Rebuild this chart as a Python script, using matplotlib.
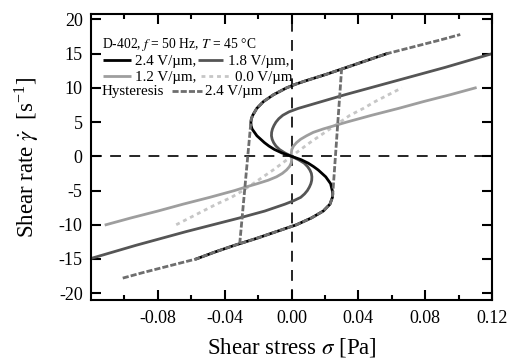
import matplotlib
matplotlib.use("Agg")
import matplotlib.pyplot as plt

plt.rcParams['font.family'] = ['Liberation Serif', 'DejaVu Serif']
plt.rcParams['mathtext.fontset'] = 'stix'
plt.rcParams['axes.unicode_minus'] = False

# 0.0 V/um (no field)
gamma_00 = [-10, -9, -8, -7, -6, -5, -4, -3, -2, -1, 0, 1, 2, 3, 4, 5, 6, 7, 8, 9, 10]
sigma_00 = [-0.069, -0.061, -0.053, -0.045, -0.036, -0.029, -0.023, -0.017, -0.011, -0.0055, 0,
            0.0055, 0.011, 0.017, 0.023, 0.029, 0.035, 0.043, 0.050, 0.058, 0.066]

# 1.2 V/um
gamma_12 = [-10, -9, -8, -7, -6, -5, -4.5, -4, -3.5, -3, -2.5, -2, -1.5, -1, -0.5, 0,
            0.5, 1, 1.5, 2, 2.5, 3, 3.5, 4, 4.5, 5, 6, 7, 8, 9, 10]
sigma_12 = [-0.111, -0.096, -0.080, -0.065, -0.049, -0.034, -0.0275, -0.0205, -0.014, -0.009, -0.0055,
            -0.003, -0.0012, -0.0002, 0.0001, 0,
            -0.0001, 0.0002, 0.0012, 0.003, 0.0055, 0.009, 0.013, 0.019, 0.026, 0.033, 0.048, 0.064,
            0.079, 0.095, 0.110]

# 1.8 V/um
gamma_18 = [-15, -14, -13, -12, -11, -10, -9, -8, -7.5, -7, -6.5, -6, -5.5, -5, -4.5, -4, -3.5, -3,
            -2.5, -2, -1.5, -1, -0.5, 0, 0.5, 1, 1.5, 2, 2.5, 3, 3.5, 4, 4.5, 5, 5.5, 6, 6.5, 7,
            7.5, 8, 9, 10, 11, 12, 13, 14, 15]
sigma_18 = [-0.121, -0.107, -0.093, -0.078, -0.063, -0.047, -0.031, -0.016, -0.010, -0.004, 0.0012,
            0.0055, 0.0078, 0.0095, 0.0107, 0.0116, 0.0121, 0.0122, 0.0119, 0.0110, 0.0096, 0.0076,
            0.0042, 0, -0.004, -0.0072, -0.0093, -0.0107, -0.0116, -0.012, -0.0119, -0.0114, -0.0105,
            -0.0093, -0.0076, -0.0052, -0.0015, 0.004, 0.011, 0.018, 0.032, 0.047, 0.062, 0.077,
            0.092, 0.106, 0.120]

# 2.4 V/um
gamma_24 = [-15, -14, -13, -12, -11, -10.5, -10, -9, -8, -7, -6, -5.5, -5, -4, -3, -2, -1.5, -1,
            -0.5, 0, 0.5, 1, 1.5, 2, 3, 4, 4.5, 5, 5.5, 6, 7, 8, 9, 10, 10.5, 11, 12, 13, 14, 15]
sigma_24 = [-0.057, -0.046, -0.034, -0.021, -0.009, -0.003, 0.003, 0.012, 0.019, 0.023, 0.0245,
            0.0247, 0.0244, 0.0234, 0.0205, 0.016, 0.0132, 0.0100, 0.0058, 0, -0.0058, -0.0102,
            -0.0135, -0.0162, -0.0207, -0.0236, -0.0242, -0.0243, -0.0240, -0.0232, -0.0208,
            -0.0168, -0.0108, -0.003, 0.002, 0.008, 0.021, 0.033, 0.045, 0.057]

# hysteresis at 2.4 V/um: rising stress (lower branch + jump up)
gamma_hy_up = [-17.8, -17, -16, -15, -14, -13, -12, -11, -10, -9, -8, -7, -6, -5.5, 12.8]
sigma_hy_up = [-0.101, -0.089, -0.073, -0.057, -0.046, -0.034, -0.021, -0.009, 0.003, 0.012,
               0.019, 0.023, 0.0245, 0.0247, 0.030]
# falling stress (jump down + upper branch)
gamma_hy_dn = [-12.8, 5, 5.5, 6, 7, 8, 9, 10, 10.5, 11, 12, 13, 14, 15, 16, 17, 17.8]
sigma_hy_dn = [-0.031, -0.0243, -0.0240, -0.0232, -0.0208, -0.0168, -0.0108, -0.003, 0.002,
               0.008, 0.021, 0.033, 0.045, 0.057, 0.073, 0.089, 0.101]

c_24 = '#000000'
c_18 = '#555555'
c_12 = '#9e9e9e'
c_00 = '#c6c6c6'
c_hy = '#6e6e6e'
lw = 2.0
dot_00 = (0, (1.4, 1.4))
dash_hy = (0, (2.2, 0.75))

fig = plt.figure(figsize=(5.14, 3.61), dpi=100)
ax = fig.add_axes([91 / 514, 61 / 361, 401 / 514, 286 / 361])

ax.axhline(0, color='black', lw=1.2, ls=(0, (6.5, 5)), zorder=1)
ax.axvline(0, color='black', lw=1.2, ls=(0, (6.5, 5)), zorder=1)

ax.plot(sigma_00, gamma_00, color=c_00, lw=lw, ls=dot_00)
ax.plot(sigma_12, gamma_12, color=c_12, lw=lw)
ax.plot(sigma_18, gamma_18, color=c_18, lw=lw)
ax.plot(sigma_24, gamma_24, color=c_24, lw=lw)
ax.plot(sigma_hy_up, gamma_hy_up, color=c_hy, lw=lw, ls=dash_hy)
ax.plot(sigma_hy_dn, gamma_hy_dn, color=c_hy, lw=lw, ls=dash_hy)

ax.set_xlim(-0.12, 0.12)
ax.set_ylim(-21, 20.8)
ax.set_xticks([-0.08, -0.04, 0.0, 0.04, 0.08, 0.12])
ax.set_xticks([-0.10, -0.06, -0.02, 0.02, 0.06, 0.10], minor=True)
ax.set_yticks(range(-20, 21, 5))
ax.tick_params(which='both', direction='in', top=True, right=True, width=1.5, labelsize=13)
ax.tick_params(which='major', length=7)
ax.tick_params(which='minor', length=3.5)
ax.tick_params(axis='x', pad=7)
ax.tick_params(axis='y', pad=6)
for s in ax.spines.values():
    s.set_linewidth(1.5)

ax.set_xlabel(r'Shear stress $\sigma$ [Pa]', fontsize=16.5)
ax.set_ylabel(r'Shear rate $\dot{\gamma}$  [s$^{\mathregular{-1}}$]', fontsize=16.5)
ax.xaxis.set_label_coords(0.5, -0.125)
ax.yaxis.set_label_coords(-0.125, 0.5)


# legend drawn by hand, positions in pixels of the 514x361 figure
def px(x, y):
    return (x - 91) / 401, (300 - y) / 286


fs = 10.8
tx, ty = px(101.7, 47.7)
ax.text(tx, ty, r'D-402, $f$ = 50 Hz, $T$ = 45 °C', transform=ax.transAxes, fontsize=9.8)

rows = [
    (60, [(103, 131, c_24, '-', '2.4 V/µm,', 135), (198, 223, c_18, '-', '1.8 V/µm,', 228)]),
    (76, [(103, 131, c_12, '-', '1.2 V/µm,', 135), (201, 231, c_00, dot_00, '0.0 V/µm', 235)]),
    (90.7, [(171.5, 201.5, c_hy, dash_hy, '2.4 V/µm', 205)]),
]
for yy, items in rows:
    for x0, x1, col, ls, lab, xt in items:
        a0, b0 = px(x0, yy)
        a1, _ = px(x1, yy)
        ax.plot([a0, a1], [b0, b0], color=col, lw=lw, ls=ls, transform=ax.transAxes,
                solid_capstyle='butt')
        at, bt = px(xt, yy + 4.5)
        ax.text(at, bt, lab, transform=ax.transAxes, fontsize=fs)
hx, hy = px(101.7, 95.2)
ax.text(hx, hy, 'Hysteresis', transform=ax.transAxes, fontsize=fs)

fig.savefig('out.png', dpi=100)
